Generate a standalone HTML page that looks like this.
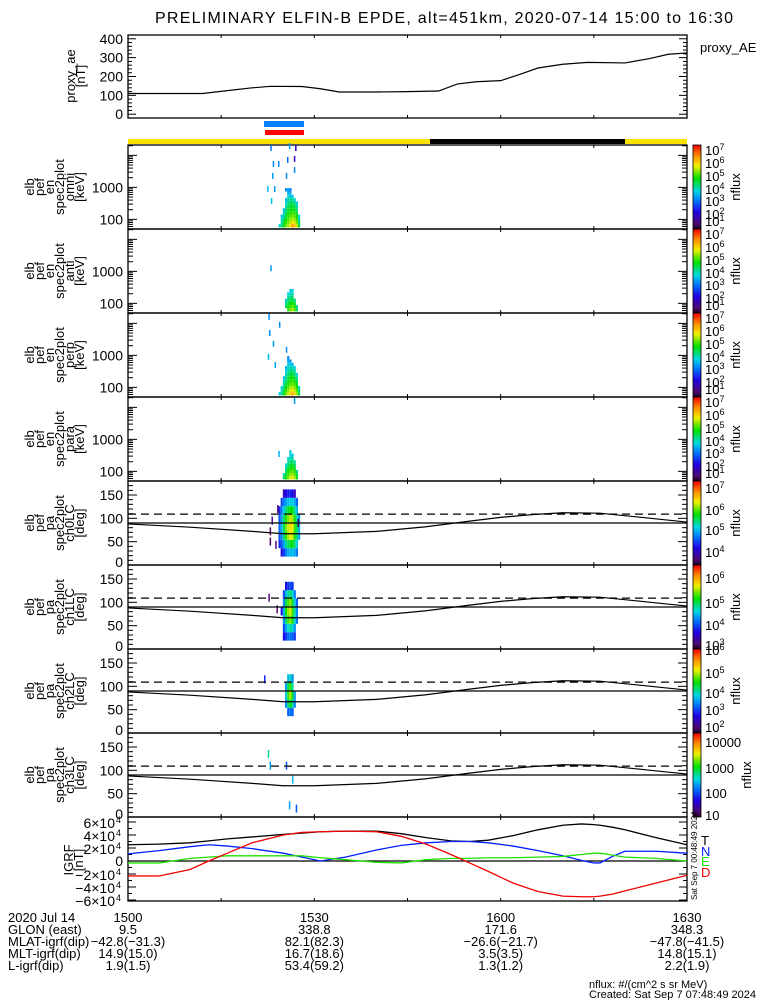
<!DOCTYPE html>
<html><head><meta charset="utf-8"><style>
html,body{margin:0;padding:0;background:#fff;}
svg{display:block;font-family:"Liberation Sans",sans-serif;}
text{font-family:"Liberation Sans",sans-serif;}
</style></head><body>
<svg id="chart" width="775" height="1000" viewBox="0 0 775 1000" xmlns="http://www.w3.org/2000/svg">
<defs>
<linearGradient id="cbar" x1="0" y1="1" x2="0" y2="0">
<stop offset="0" stop-color="#1a0020"/><stop offset="0.06" stop-color="#4b0a6e"/>
<stop offset="0.2" stop-color="#2000e0"/><stop offset="0.33" stop-color="#0070ff"/>
<stop offset="0.45" stop-color="#00d8e0"/><stop offset="0.6" stop-color="#00e000"/>
<stop offset="0.75" stop-color="#f0f000"/><stop offset="0.87" stop-color="#ff9000"/>
<stop offset="1" stop-color="#f00000"/></linearGradient>
</defs>
<text x="444" y="23" text-anchor="middle" font-size="16" textLength="578">PRELIMINARY ELFIN-B EPDE, alt=451km, 2020-07-14 15:00 to 16:30</text>
<g id="layer"></g>
</svg>
<script>
// ---------- data ----------
const aeTimes = [0, 5, 12, 16, 20, 23, 28, 31, 34, 40, 45, 50, 53, 56, 60, 63, 66, 70, 74, 80, 84, 87, 90];
const aeValues = [110, 110, 110, 125, 140, 148, 147, 135, 118, 118, 120, 123, 160, 172, 178, 210, 245, 265, 275, 272, 295, 318, 325];
const aeTicks = [0, 100, 200, 300, 400];

const timeTickLabels = ["1500", "1530", "1600", "1630"];
const timeTickMinutes = [0, 30, 60, 90];

const specTimes = [24.4, 24.75, 25.1, 25.45, 25.8, 26.15, 26.5, 26.85, 27.2, 27.55];
const energyBins = [63, 80, 98, 125, 160, 200, 250, 320, 410, 520, 660, 840];
const omniFlux = [
 [3.8,0,0,0,0,0,0,0,0,0,0,0],
 [4.2,4.0,3.8,3.6,0,0,0,0,0,0,0,0],
 [4.5,4.5,4.3,4.0,3.8,3.6,0,0,0,0,0,0],
 [5.0,4.8,4.6,4.4,4.3,4.2,4.0,3.8,3.6,0,0,3.2],
 [5.2,5.0,4.9,4.7,4.6,4.4,4.3,4.1,4.0,3.8,3.5,3.3],
 [5.6,5.3,5.1,4.9,4.7,4.5,4.4,4.3,4.1,3.6,3.4,3.1],
 [6.2,5.6,5.3,5.0,4.8,4.6,4.5,4.3,4.0,3.7,0,0],
 [5.8,5.4,5.1,4.9,4.7,4.5,4.3,4.1,3.8,0,0,0],
 [5.3,5.0,4.8,4.6,4.4,4.2,4.0,3.6,0,0,0,0],
 [4.4,4.2,4.0,3.8,0,0,0,0,0,0,0,0]];
const antFlux = [
 [0,0,0,0,0,0,0,0,0,0,0,0],
 [0,0,0,0,0,0,0,0,0,0,0,0],
 [0,0,0,0,0,0,0,0,0,0,0,0],
 [0,4.3,4.0,3.8,0,0,0,0,0,0,0,0],
 [4.8,4.6,4.4,4.2,4.0,3.8,0,0,0,0,0,0],
 [5.0,4.8,4.6,4.3,4.1,3.8,3.6,0,0,0,0,0],
 [5.3,5.0,4.7,4.4,4.2,4.0,3.7,0,0,0,0,0],
 [4.8,4.6,4.4,4.1,0,0,0,0,0,0,0,0],
 [4.3,4.0,0,0,0,0,0,0,0,0,0,0],
 [0,0,0,0,0,0,0,0,0,0,0,0]];
const perpFlux = [
 [3.7,0,0,0,0,0,0,0,0,0,0,0],
 [4.1,3.9,3.7,0,0,0,0,0,0,0,0,0],
 [4.5,4.4,4.2,4.0,3.8,3.6,0,0,0,0,0,0],
 [5.0,4.8,4.6,4.4,4.2,4.1,3.9,3.7,3.5,0,0,0],
 [5.3,5.1,4.9,4.7,4.5,4.4,4.2,4.0,3.9,3.7,3.4,3.2],
 [5.7,5.4,5.2,4.9,4.7,4.6,4.4,4.2,4.0,3.6,3.3,0],
 [6.0,5.6,5.3,5.0,4.8,4.6,4.4,4.2,3.9,3.6,0,0],
 [5.7,5.3,5.0,4.8,4.6,4.4,4.2,4.0,3.7,0,0,0],
 [5.1,4.9,4.7,4.5,4.3,4.1,3.8,0,0,0,0,0],
 [4.3,4.1,3.9,0,0,0,0,0,0,0,0,0]];
const paraFlux = [
 [0,0,0,0,0,0,0,0,0,0,0,0],
 [0,0,0,0,0,0,0,0,0,0,0,0],
 [4.2,4.0,0,0,0,0,0,0,0,0,0,0],
 [4.6,4.4,4.2,4.0,3.8,0,0,0,0,0,0,0],
 [5.0,4.8,4.6,4.4,4.2,4.0,3.8,0,0,0,0,0],
 [5.4,5.1,4.9,4.6,4.4,4.2,4.0,3.8,3.6,0,0,0],
 [5.6,5.2,4.9,4.7,4.5,4.2,4.0,3.7,0,0,0,0],
 [5.2,4.9,4.7,4.5,4.2,4.0,0,0,0,0,0,0],
 [4.6,4.4,4.1,0,0,0,0,0,0,0,0,0],
 [0,0,0,0,0,0,0,0,0,0,0,0]];
// sparse dashes: [minute, keV, logflux]
const omniDashes = [[22.9,16900,3.0],[25.9,19500,3.3],[26.9,16900,1.9],[23.3,5400,3.2],[24.15,5400,3.2],[25.6,7200,3.0],[26.7,7750,1.9],[26.7,3470,3.2],[23.2,2280,3.3],[25.4,2280,3.2],[22.4,890,3.6],[23.5,890,3.3],[23.0,375,3.6]];
const antDashes = [[22.9,1250,3.3]];
const perpDashes = [[22.6,16000,3.2],[24.3,9000,3.2],[22.7,5000,3.2],[23.3,2300,3.3],[25.4,1500,3.2],[22.5,900,3.5],[23.6,500,3.4]];
const paraDashes = [[26.7,16000,3.3],[24.2,350,3.5]];

const pitchBins = [9, 27, 45, 63, 81, 99, 117, 135, 153, 171];
const ch0Flux = [
 [0,0,3.6,3.8,3.9,3.8,3.6,0,0,0],
 [0,3.4,3.8,4.1,4.3,4.2,4.0,3.7,0,0],
 [0,3.7,4.2,4.7,4.8,4.7,4.4,4.0,3.2,0],
 [0,4.0,4.6,5.1,5.3,5.1,4.7,4.2,3.4,0],
 [0,4.2,4.8,5.4,5.5,5.3,4.9,4.3,3.5,0],
 [0,4.3,4.9,5.6,5.7,5.5,5.0,4.4,3.6,0],
 [0,4.3,5.0,5.5,5.6,5.4,5.0,4.4,3.4,0],
 [0,4.2,4.7,5.0,5.1,5.0,4.6,4.2,3.2,0],
 [0,4.0,4.4,4.7,4.8,4.6,4.3,3.9,0,0],
 [0,0,0,4.2,4.3,4.1,0,0,0,0]];
const ch1Flux = [
 [0,0,0,0,0,0,0,0,0,0],
 [0,0,0,0,3.0,0,0,0,0,0],
 [0,3.0,3.3,3.6,3.8,3.6,3.3,0,0,0],
 [0,3.2,3.7,4.2,4.5,4.3,3.8,3.0,0,0],
 [0,3.4,4.0,4.6,4.8,4.6,4.1,3.2,0,0],
 [0,3.5,4.1,4.8,5.0,4.8,4.2,3.3,0,0],
 [0,3.4,4.0,4.5,4.6,4.4,4.0,3.2,0,0],
 [0,3.2,3.6,4.0,4.1,3.9,3.5,0,0,0],
 [0,0,0,3.5,3.6,3.4,0,0,0,0],
 [0,0,0,0,0,0,0,0,0,0]];
const ch2Flux = [
 [0,0,0,0,0,0,0,0,0,0],
 [0,0,0,0,0,0,0,0,0,0],
 [0,0,0,0,0,0,0,0,0,0],
 [0,0,0,3.0,3.3,3.1,0,0,0,0],
 [0,0,2.8,3.6,4.0,3.7,3.2,0,0,0],
 [0,0,2.9,3.9,4.3,4.0,3.4,0,0,0],
 [0,0,2.8,3.5,3.8,3.5,3.0,0,0,0],
 [0,0,0,3.0,3.1,0,0,0,0,0],
 [0,0,0,0,0,0,0,0,0,0],
 [0,0,0,0,0,0,0,0,0,0]];
const ch3Flux = [
 [0,0,0,0,0,0,0,0,0,0],[0,0,0,0,0,0,0,0,0,0],[0,0,0,0,0,0,0,0,0,0],[0,0,0,0,0,0,0,0,0,0],[0,0,0,0,0,0,0,0,0,0],
 [0,0,0,0,0,0,0,0,0,0],[0,0,0,0,0,0,0,0,0,0],[0,0,0,0,0,0,0,0,0,0],[0,0,0,0,0,0,0,0,0,0],[0,0,0,0,0,0,0,0,0,0]];
// pitch dashes: [minute, pitchDeg, logflux]
const ch0Dashes = [[23.1,95,3.0],[22.8,72,2.8],[22.8,50,2.8],[23.7,43,2.9],[24.0,120,2.9],[27.3,90,2.8]];
const ch1Dashes = [[22.6,110,2.5],[23.9,85,2.5]];
const ch2Dashes = [[21.9,115,2.5]];
const ch3Dashes = [[22.5,135,2.6],[22.8,110,2.2],[25.4,110,1.9],[26.4,80,2.3],[25.9,25,2.2],[27.0,18,1.9]];

const lossConeMinutes = [0, 10, 20, 25, 30, 40, 48, 55, 60, 65, 70, 76, 82, 90];
const lossConeDeg = [88, 81, 72, 67, 67, 72, 82, 94, 102, 108, 112, 111, 103, 92];
const antiLossConeDeg = 109;
const pitchTickLabels = ["0", "50", "100", "150"];
const pitchTickValues = [0, 50, 100, 150];

const grfMinutes = [0, 5, 10, 13, 16, 20, 25, 28, 31, 35, 40, 44, 48, 52, 55, 58, 62, 66, 70, 73, 75, 76, 78, 80, 85, 90];
const grfT = [2.5, 2.6, 2.8, 3.1, 3.4, 3.7, 4.1, 4.3, 4.5, 4.6, 4.6, 4.2, 3.6, 3.1, 3.0, 3.2, 3.9, 4.8, 5.5, 5.7, 5.6, 5.5, 5.2, 4.8, 3.6, 2.5];
const grfN = [1.1, 1.6, 2.2, 2.5, 2.3, 1.9, 1.2, 0.6, 0.0, 0.6, 1.7, 2.4, 2.8, 3.0, 3.0, 2.8, 2.3, 1.6, 0.8, 0.1, -0.3, -0.3, 0.7, 1.5, 1.5, 1.2];
const grfE = [-0.3, -0.3, 0.4, 0.6, 0.8, 0.8, 0.8, 0.8, 0.5, 0.2, -0.2, -0.3, 0.2, 0.4, 0.4, 0.5, 0.5, 0.6, 0.7, 1.0, 1.2, 1.2, 0.9, 0.6, 0.4, 0.0];
const grfD = [-2.3, -2.3, -1.3, 0.0, 1.2, 2.8, 4.0, 4.4, 4.5, 4.6, 4.5, 3.8, 2.6, 1.0, -0.3, -1.6, -3.4, -4.7, -5.4, -5.5, -5.5, -5.4, -5.1, -4.6, -3.4, -2.2];
const grfTickLabels = ["6", "4", "2", "0", "-2", "-4", "-6"];
const grfTickValues = [6, 4, 2, 0, -2, -4, -6];

const footerLabels = ["2020 Jul 14", "GLON (east)", "MLAT-igrf(dip)", "MLT-igrf(dip)", "L-igrf(dip)"];
const footerValues = [
 ["1500","1530","1600","1630"],
 ["9.5","338.8","171.6","348.3"],
 ["-42.8(-31.3)","82.1(82.3)","-26.6(-21.7)","-47.8(-41.5)"],
 ["14.9(15.0)","16.7(18.6)","3.5(3.5)","14.8(15.1)"],
 ["1.9(1.5)","53.4(59.2)","1.3(1.2)","2.2(1.9)"]];

// ---------- helpers ----------
const NS = "http://www.w3.org/2000/svg";
const layer = document.getElementById("layer");
const X0 = 128, X1 = 687, PH = 84;
function xScale(m){ return X0 + m * (X1 - X0) / 90; }
function mk(tag, attrs, parent){
  const e = document.createElementNS(NS, tag);
  for (const k in attrs) e.setAttribute(k, attrs[k]);
  (parent || layer).appendChild(e);
  return e;
}
function txt(x, y, s, size, anchor, parent){
  const t = mk("text", {x:x, y:y, "font-size":size||13, "text-anchor":anchor||"start"}, parent);
  t.textContent = s; return t;
}
const stops = [[0,[40,0,60]],[0.08,[90,10,130]],[0.2,[30,0,230]],[0.33,[0,110,255]],[0.46,[0,215,225]],[0.6,[0,225,0]],[0.75,[240,240,0]],[0.87,[255,140,0]],[1,[235,0,0]]];
function cmap(f){
  f = Math.max(0, Math.min(1, f));
  for (let i = 1; i < stops.length; i++) {
    if (f <= stops[i][0]) {
      const a = stops[i-1], b = stops[i], t = (f - a[0]) / (b[0] - a[0]);
      const c = a[1].map((v, j) => Math.round(v + (b[1][j] - v) * t));
      return "rgb(" + c.join(",") + ")";
    }
  }
  return "rgb(235,0,0)";
}
function leftLabel(lines, cy, x0){
  lines.forEach((s, i) => {
    const t = txt(0, 0, s, 13, "middle");
    t.setAttribute("transform", "translate(" + (x0 + i * 10) + "," + cy + ") rotate(-90)");
    
    
  });
}
function frame(top, bottom){
  const r = mk("rect", {x:X0, y:top, width:X1 - X0, height:bottom - top, fill:"none", stroke:"#000", "stroke-width":1.3});
  
  
  timeTickMinutes.concat([15,45,75]).forEach(m => {
    mk("line", {x1:xScale(m), x2:xScale(m), y1:bottom, y2:bottom - 3, stroke:"#000"});
    mk("line", {x1:xScale(m), x2:xScale(m), y1:top, y2:top + 3, stroke:"#000"});
  });
}
function yTick(y, len){
  mk("line", {x1:X0, x2:X0 + len, y1:y, y2:y, stroke:"#000"});
  mk("line", {x1:X1, x2:X1 - len, y1:y, y2:y, stroke:"#000"});
}
function colorbar(top, labels, offs, sup){
  const r = mk("rect", {x:693, y:top, width:8, height:PH, fill:"url(#cbar)", stroke:"#000", "stroke-width":0.8});
  
  
  labels.forEach((s, i) => {
    const t = txt(705, top + offs[i] + 5, s, 13);
    if (sup) { const ts = mk("tspan", {dy:-5, "font-size":9}, t); ts.textContent = sup[i]; }
    
    
  });
  const n = txt(0, 0, "nflux", 13, "middle");
  n.setAttribute("transform", "translate(" + (sup ? 740 : 751) + "," + (top + 42) + ") rotate(-90)");
  
  
}

// ---------- AE panel ----------
const AT = 35, AB = 118;
function aeY(v){ return AB - (v + 20) * (AB - AT) / 440; }
frame(AT, AB);
for (let v = 0; v <= 420; v += 20) yTick(aeY(v), v % 100 === 0 ? 8 : 4);
aeTicks.forEach(v => {
  const t = txt(123, aeY(v) + 5, String(v), 14, "end");
  
  
});
leftLabel(["proxy_ae", "[nT]"], 76, 75);
const aeLine = mk("polyline", {points: aeTimes.map((m, i) => xScale(m) + "," + aeY(aeValues[i])).join(" "), fill:"none", stroke:"#000", "stroke-width":1.2});


const aeLbl = txt(700, 52, "proxy_AE", 13);



// science zone bars
const sb = mk("rect", {x:264, y:121, width:40, height:6, fill:"#0a80ff"});


const sr = mk("rect", {x:265, y:130, width:39, height:5, fill:"#f00"});


const yb = mk("rect", {x:X0, y:139, width:X1 - X0, height:5, fill:"#f8e000"});


const bb = mk("rect", {x:430, y:139, width:195, height:5, fill:"#000"});



// ---------- energy spectrogram panels ----------
const specOffs = [5,18,31,44,56,69,76];
const specCbLabels = ["10","10","10","10","10","10","10"];
const specCbSup = ["7","6","5","4","3","2","1"];
function specPanel(top, name, flux, dashes){
  const bottom = top + PH;
  const eY = e => bottom - (Math.log10(e) - Math.log10(50)) * 32;
  frame(top, bottom);
  [60,70,80,90,100,200,300,400,500,600,700,800,900,1000,2000,3000,4000,5000,6000,7000,8000,9000,10000,20000].forEach(e => {
    const y = eY(e); if (y > top && y < bottom) yTick(y, (e === 100 || e === 1000 || e === 10000) ? 9 : 5);
  });
  [100, 1000].forEach(e => {
    const t = txt(123, eY(e) + 5, String(e), 14, "end");
    
    
  });
  leftLabel(["elb","pef","en","spec2plot",name,"[keV]"], top + 42, 34);
  const g = mk("g", {});
  
  
  const dt = 0.35 * (X1 - X0) / 90;
  specTimes.forEach((m, ci) => {
    energyBins.forEach((e, bi) => {
      const v = flux[ci][bi]; if (!v) return;
      const lo = bi === 0 ? 56 : Math.sqrt(e * energyBins[bi-1]);
      const hi = bi === energyBins.length - 1 ? e * 1.13 : Math.sqrt(e * energyBins[bi+1]);
      const c = mk("rect", {x:xScale(m) - dt/2, y:eY(hi), width:dt, height:eY(lo) - eY(hi), fill:cmap((v - 1) / 6)}, g);
      
      
    });
  });
  dashes.forEach(d => {
    const c = mk("rect", {x:xScale(d[0]), y:eY(d[1]) - 3, width:1.5, height:6, fill:cmap((d[2] - 1) / 6)}, g);
    
    
  });
  colorbar(top, specCbLabels, specOffs, specCbSup);
}
specPanel(145, "omni", omniFlux, omniDashes);
specPanel(229, "anti", antFlux, antDashes);
specPanel(313, "perp", perpFlux, perpDashes);
specPanel(397, "para", paraFlux, paraDashes);

// ---------- pitch angle panels ----------
function paPanel(top, name, flux, dashes, fmin, fmax, cbl, cbs, cbo){
  const bottom = top + PH;
  const pY = p => bottom - p * PH / 180;
  frame(top, bottom);
  for (let p = 10; p < 180; p += 10) yTick(pY(p), p % 50 === 0 ? 9 : 5);
  pitchTickValues.forEach((p, i) => {
    const t = txt(123, pY(p) + 5 - (p === 0 ? 3 : 0), pitchTickLabels[i], 14, "end");
    
    
  });
  leftLabel(["elb","pef","pa","spec2plot",name,"[deg]"], top + 42, 34);
  const g = mk("g", {});
  
  
  const dt = 0.35 * (X1 - X0) / 90;
  specTimes.forEach((m, ci) => {
    pitchBins.forEach((p, bi) => {
      const v = flux[ci][bi]; if (!v) return;
      const c = mk("rect", {x:xScale(m) - dt/2, y:pY(p + 9), width:dt, height:18 * PH / 180, fill:cmap((v - fmin) / (fmax - fmin))}, g);
      
      
    });
  });
  dashes.forEach(d => {
    const c = mk("rect", {x:xScale(d[0]), y:pY(d[1]) - 4, width:1.5, height:8, fill:cmap((d[2] - fmin) / (fmax - fmin))}, g);
    
    
  });
  const h = mk("line", {x1:X0, x2:X1, y1:pY(90), y2:pY(90), stroke:"#000", "stroke-width":1.2});
  
  
  const d = mk("line", {x1:X0, x2:X1, y1:pY(antiLossConeDeg), y2:pY(antiLossConeDeg), stroke:"#000", "stroke-width":1.2, "stroke-dasharray":"8,5"});
  
  
  const lc = mk("polyline", {points: lossConeMinutes.map((m, i) => xScale(m) + "," + pY(lossConeDeg[i])).join(" "), fill:"none", stroke:"#000", "stroke-width":1.2});
  
  
  colorbar(top, cbl, cbo, cbs);
}
paPanel(481, "ch0LC", ch0Flux, ch0Dashes, 2.6, 6.6, ["10","10","10","10"], ["7","6","5","4"], [7,29,49,71]);
paPanel(565, "ch1LC", ch1Flux, ch1Dashes, 2.2, 6.0, ["10","10","10","10"], ["6","5","4","3"], [13,38,60,80]);
paPanel(649, "ch2LC", ch2Flux, ch2Dashes, 1.6, 5.4, ["10","10","10","10","10"], ["6","5","4","3","2"], [1,24,44,61,78]);
paPanel(733, "ch3LC", ch3Flux, ch3Dashes, 0.9, 4.2, ["10000","1000","100","10"], null, [9,35,60,82]);

// ---------- IGRF panel ----------
const GT = 817, GB = 901;
const gY = v => 861 - v * 6.5;
frame(GT, GB);
for (let v = -6; v <= 6; v += 1) yTick(gY(v), v % 2 === 0 ? 8 : 4);
const zl = mk("line", {x1:X0, x2:X1, y1:gY(0), y2:gY(0), stroke:"#000", "stroke-width":1.2});


grfTickValues.forEach((v, i) => {
  let t;
  if (v === 0) t = txt(123, gY(v) + 5, "0", 14, "end");
  else {
    t = txt(115, gY(v) + 6, (v < 0 ? "\u2212" + (-v) : String(v)) + "\u00d710", 14, "end");
    const s = txt(116, gY(v) + 1, "4", 9, "start");
    
    
  }
  
  
});
leftLabel(["IGRF", "[nT]"], 860, 73);
[[grfT, "#000", "igrf-total-line"], [grfN, "#0020ff", "igrf-north-line"], [grfE, "#20e000", "igrf-east-line"], [grfD, "#f00000", "igrf-down-line"]].forEach(s => {
  const l = mk("polyline", {points: grfMinutes.map((m, i) => xScale(m) + "," + gY(s[0][i])).join(" "), fill:"none", stroke:s[1], "stroke-width":1.3});
  
  
});
[["T", "#000", 845], ["N", "#0020ff", 856], ["E", "#20e000", 866], ["D", "#f00000", 877]].forEach(s => {
  const t = txt(701, s[2], s[0], 13); t.setAttribute("fill", s[1]);
  
  
});
const stamp = txt(0, 0, "Sat Sep  7 00:48:49 2024", 8, "start");
stamp.setAttribute("transform", "translate(697,900) rotate(-90)");



// ---------- footer ----------
footerLabels.forEach((s, r) => {
  const t = txt(8, 922 + r * 12, s, 13);
  
  
  footerValues[r].forEach((v, c) => {
    const tv = txt(xScale(timeTickMinutes[c]), 922 + r * 12, v.replace(/-/g, "\u2212"), 13, "middle");
    
    
  });
});
const n1 = txt(589, 988, "nflux: #/(cm^2 s sr MeV)", 11);


const n2 = txt(589, 998, "Created: Sat Sep  7 07:48:49 2024", 11);


</script>
</body></html>
